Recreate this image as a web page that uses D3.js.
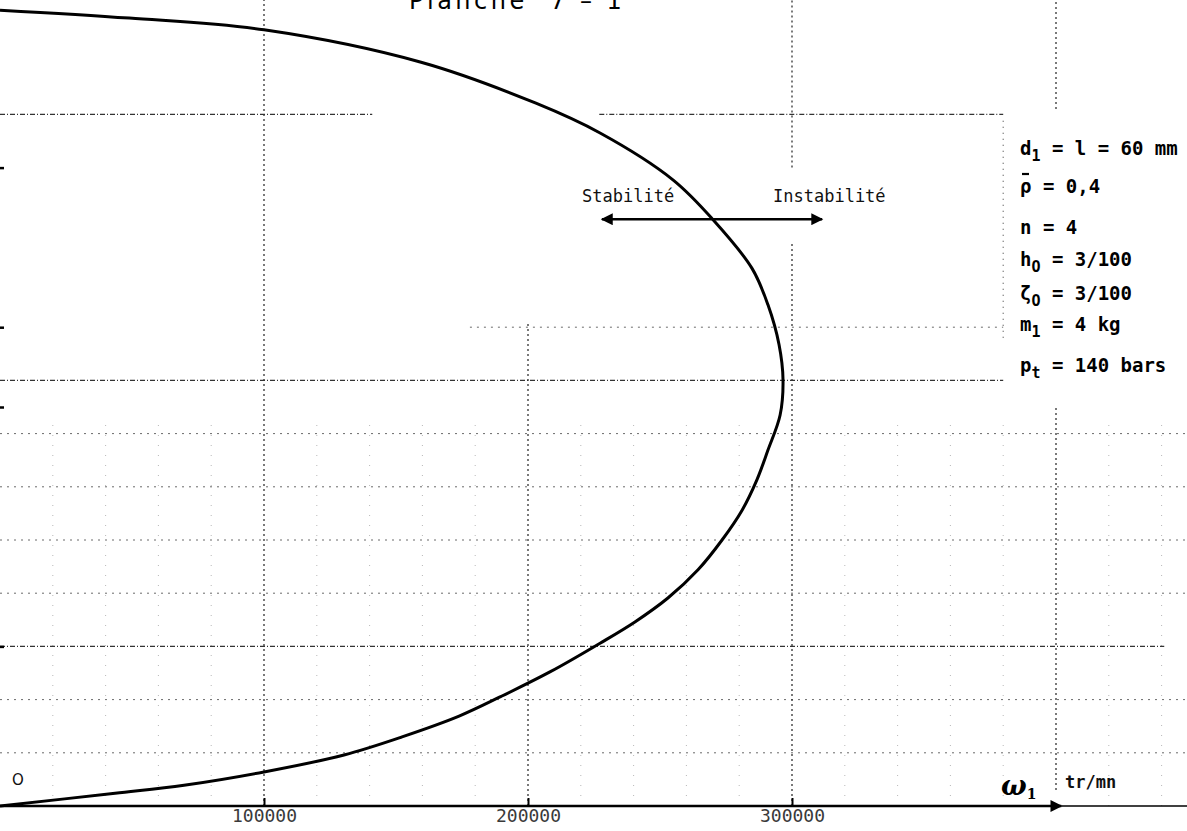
<!DOCTYPE html>
<html lang="fr">
<head>
<meta charset="utf-8">
<title>Planche 7-1</title>
<script src="https://cdn.jsdelivr.net/npm/d3@7"></script>
<style>
  html, body { margin: 0; padding: 0; background: #fff; }
  svg { display: block; }
  text { white-space: pre; }
</style>
</head>
<body>
<svg id="chart" width="1187" height="831"></svg>
<script>
// Stability boundary: rotation speed ω1 (tr/mn) against the ordinate (grid units)
const omega = [0, 49000, 100000, 159500, 203000, 227300, 254900, 270100, 284800, 290900,
               295100, 296600, 295500, 290900, 286700, 281100, 273500, 264400, 253000, 240500,
               227300, 208300, 189400, 173900, 152300, 130300, 100000, 69700, 43600, 0];
const ordinate = [14.96, 14.81, 14.59, 13.98, 13.21, 12.65, 11.77, 11.02, 10.11, 9.42,
                  8.67, 8.01, 7.35, 6.69, 6.13, 5.56, 5.00, 4.44, 3.91, 3.46,
                  3.06, 2.52, 2.05, 1.69, 1.30, 0.96, 0.64, 0.39, 0.24, 0];

// Axis ticks
const xTicks = [100000, 200000, 300000];
const xTickLabels = ["100000", "200000", "300000"];
const yTicks = [3, 7.5, 9, 12];

// Grid: heavy lines every 100000 tr/mn and every 5 units, light ones in between
const majorRows = [
  { y: 3, from: 0, to: 441000 },
  { y: 8, from: 0, to: 380000 },
  { y: 13, from: 0, to: 141000 },
  { y: 13, from: 227000, to: 380000 }
];
const majorCols = [
  { x: 100000, from: 0, to: 15.2 },
  { x: 200000, from: 0, to: 9.1 },
  { x: 300000, from: 0, to: 10.6 },
  { x: 300000, from: 12, to: 15.2 },
  { x: 400000, from: 0.3, to: 7.5 },
  { x: 400000, from: 13.1, to: 15.2 }
];
const minorRows = [
  { y: 1, from: 0, to: 450000 },
  { y: 2, from: 0, to: 450000 },
  { y: 4, from: 0, to: 450000 },
  { y: 5, from: 0, to: 450000 },
  { y: 6, from: 0, to: 450000 },
  { y: 7, from: 0, to: 450000 },
  { y: 9, from: 178000, to: 380000 }
];
const minorColValues = [20000, 40000, 60000, 80000, 120000, 140000, 160000, 180000,
                        220000, 240000, 260000, 280000, 320000, 340000, 360000, 380000, 420000, 440000];
const minorColUpper = [{ x: 380000, from: 8.8, to: 12.9 }];

// Parameters of the case
const paramNames = ["d", "\u03C1", "n", "h", "\u03B6", "m", "p"];
const paramSubs = ["1", "", "", "O", "O", "1", "t"];
const paramValues = ["= l = 60 mm", "= 0,4", "= 4", "= 3/100", "= 3/100", "= 4 kg", "= 140 bars"];
const paramBarred = [false, true, false, false, false, false, false];

// Stability / instability annotation arrow (ω1 range, ordinate)
const arrowSpan = [228000, 311400];
const arrowLevel = 11.03;

// ---------------------------------------------------------------
const W = 1187, H = 831;
const svg = d3.select("#chart");

const x = d3.scaleLinear().domain([0, 400000]).range([0, 1056]);
const y = d3.scaleLinear().domain([0, 15]).range([806, 8]);

const mono = "'DejaVu Sans Mono', 'Liberation Mono', monospace";

const defs = svg.append("defs");
defs.append("marker")
  .attr("id", "head")
  .attr("viewBox", "0 0 10 10")
  .attr("refX", 9).attr("refY", 5)
  .attr("markerUnits", "userSpaceOnUse")
  .attr("markerWidth", 24).attr("markerHeight", 12)
  .attr("orient", "auto-start-reverse")
  .append("path")
  .attr("d", "M0,0 L10,5 L0,10 Z")
  .attr("fill", "#000");

// light grid
const grid = svg.append("g");
grid.selectAll("line.minor-row")
  .data(minorRows).join("line")
  .attr("class", "minor-row")
  .attr("x1", d => x(d.from)).attr("x2", d => x(d.to))
  .attr("y1", d => y(d.y)).attr("y2", d => y(d.y))
  .attr("stroke", "#6a6a6a").attr("stroke-width", 1)
  .attr("stroke-dasharray", "2,5");

grid.selectAll("line.minor-col")
  .data(minorColValues).join("line")
  .attr("class", "minor-col")
  .attr("x1", d => x(d)).attr("x2", d => x(d))
  .attr("y1", y(0)).attr("y2", y(7.2))
  .attr("stroke", "#8a8a8a").attr("stroke-width", 1)
  .attr("stroke-dasharray", "1,9")
  .attr("opacity", 0.6);

grid.selectAll("line.minor-col-upper")
  .data(minorColUpper).join("line")
  .attr("class", "minor-col-upper")
  .attr("x1", d => x(d.x)).attr("x2", d => x(d.x))
  .attr("y1", d => y(d.from)).attr("y2", d => y(d.to))
  .attr("stroke", "#555").attr("stroke-width", 1.2)
  .attr("stroke-dasharray", "1,5");

// heavy grid
grid.selectAll("line.major-row")
  .data(majorRows).join("line")
  .attr("class", "major-row")
  .attr("x1", d => x(d.from)).attr("x2", d => x(d.to))
  .attr("y1", d => y(d.y)).attr("y2", d => y(d.y))
  .attr("stroke", "#333").attr("stroke-width", 1.4)
  .attr("stroke-dasharray", "5,2,1,2");

grid.selectAll("line.major-col")
  .data(majorCols).join("line")
  .attr("class", "major-col")
  .attr("x1", d => x(d.x)).attr("x2", d => x(d.x))
  .attr("y1", d => y(d.from)).attr("y2", d => y(d.to))
  .attr("stroke", "#333").attr("stroke-width", 1.3)
  .attr("stroke-dasharray", "2,3");

// x axis: ticks and labels
const xAxis = d3.axisBottom(x)
  .tickValues(xTicks)
  .tickFormat((d, i) => xTickLabels[i])
  .tickSizeInner(-8).tickSizeOuter(0)
  .tickPadding(3);

const gx = svg.append("g")
  .attr("transform", `translate(0,${y(0)})`)
  .call(xAxis);
gx.select(".domain").remove();
gx.selectAll(".tick line").attr("stroke", "#000").attr("stroke-width", 2);
gx.selectAll(".tick text")
  .attr("font-family", mono)
  .attr("font-size", 18)
  .attr("fill", "#3a3a3a");

// axis line with arrowhead, continuing to the edge
svg.append("line")
  .attr("x1", 0).attr("x2", x(402000))
  .attr("y1", y(0)).attr("y2", y(0))
  .attr("stroke", "#000").attr("stroke-width", 2.6)
  .attr("marker-end", "url(#head)");
svg.append("line")
  .attr("x1", x(402000)).attr("x2", W)
  .attr("y1", y(0)).attr("y2", y(0))
  .attr("stroke", "#000").attr("stroke-width", 1.6);

// y axis tick stubs on the left edge
const yAxis = d3.axisRight(y)
  .tickValues(yTicks)
  .tickFormat("")
  .tickSizeInner(4).tickSizeOuter(0);
const gy = svg.append("g").call(yAxis);
gy.select(".domain").remove();
gy.selectAll(".tick line").attr("stroke", "#000").attr("stroke-width", 2.5);

// boundary curve
const pts = omega.map((w, i) => [w, ordinate[i]]);
const line = d3.line()
  .x(d => x(d[0]))
  .y(d => y(d[1]))
  .curve(d3.curveCatmullRom.alpha(0.5));
svg.append("path")
  .attr("d", line(pts))
  .attr("fill", "none")
  .attr("stroke", "#000")
  .attr("stroke-width", 3)
  .attr("stroke-linejoin", "round");

// stability annotation
svg.append("line")
  .attr("x1", x(arrowSpan[0])).attr("x2", x(arrowSpan[1]))
  .attr("y1", y(arrowLevel)).attr("y2", y(arrowLevel))
  .attr("stroke", "#000").attr("stroke-width", 2.6)
  .attr("marker-start", "url(#head)")
  .attr("marker-end", "url(#head)");

svg.append("text")
  .attr("x", 582).attr("y", 202)
  .attr("font-family", mono).attr("font-size", 17)
  .attr("fill", "#111")
  .text("Stabilité");
svg.append("text")
  .attr("x", 773).attr("y", 202)
  .attr("font-family", mono).attr("font-size", 17)
  .attr("fill", "#111")
  .text("Instabilité");

// title (top edge)
svg.append("text")
  .attr("x", 409).attr("y", 9)
  .attr("font-family", "'DejaVu Sans', sans-serif")
  .attr("font-size", 24)
  .attr("letter-spacing", 3.5)
  .attr("fill", "#000")
  .text("Planche  7 – 1");

// origin mark
svg.append("text")
  .attr("x", 12).attr("y", 785)
  .attr("font-family", "'DejaVu Sans', sans-serif")
  .attr("font-size", 15)
  .attr("fill", "#111")
  .text("O");

// axis name and unit
const wl = svg.append("text")
  .attr("x", 1001).attr("y", 795)
  .attr("font-family", "'DejaVu Serif', serif")
  .attr("font-weight", "bold").attr("font-style", "italic")
  .attr("font-size", 27)
  .attr("fill", "#000");
wl.append("tspan").text("ω");
wl.append("tspan").attr("font-size", 14).attr("font-style", "normal").attr("dy", 4).text("1");

svg.append("text")
  .attr("x", 1065).attr("y", 788)
  .attr("font-family", mono).attr("font-size", 17)
  .attr("font-weight", "bold")
  .attr("fill", "#111")
  .text("tr/mn");

// parameter block
const paramRows = [155, 193, 234, 266, 300, 331, 372];
const paramX = 1020;
const pg = svg.append("g")
  .attr("font-family", mono)
  .attr("font-weight", "bold")
  .attr("font-size", 19)
  .attr("fill", "#000");
paramNames.forEach((name, i) => {
  const t = pg.append("text").attr("x", paramX).attr("y", paramRows[i]);
  t.append("tspan").text(name);
  if (paramSubs[i]) {
    t.append("tspan").attr("font-size", 15).attr("dy", 6).text(paramSubs[i]);
    t.append("tspan").attr("dy", -6).text(" " + paramValues[i]);
  } else {
    t.append("tspan").text(" " + paramValues[i]);
  }
  if (paramBarred[i]) {
    pg.append("line")
      .attr("x1", paramX + 2).attr("x2", paramX + 9)
      .attr("y1", paramRows[i] - 19).attr("y2", paramRows[i] - 19)
      .attr("stroke", "#000").attr("stroke-width", 2.2);
  }
});
</script>
</body>
</html>
